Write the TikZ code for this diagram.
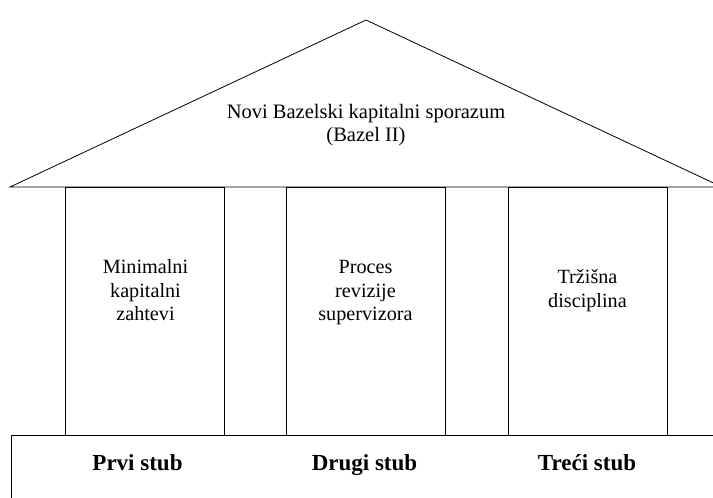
\documentclass[tikz,border=0pt]{standalone}
\usepackage{fontspec}
\setmainfont{Liberation Serif}
\begin{document}
\begin{tikzpicture}[x=1pt,y=1pt,
  outline/.style={draw=black,line width=0.8pt},
  pillartext/.style={align=center,font=\fontsize{20.2}{23.5}\selectfont,inner sep=0pt,anchor=base},
  roottext/.style={align=center,font=\fontsize{20.5}{23.4}\selectfont,inner sep=0pt,anchor=base},
  stubtext/.style={font=\fontsize{23}{27}\selectfont\bfseries,inner sep=0pt,anchor=base}]
\useasboundingbox (0,0) rectangle (713,498);
\clip (0,0) rectangle (713,498);
% roof
\draw[outline] (10,311) -- (366,478) -- (722,311) -- cycle;
% pillars
\draw[outline] (65,311) rectangle (224,63);
\draw[outline] (286,311) rectangle (445,63);
\draw[outline] (508,311) rectangle (667,63);
% base
\draw[outline] (11,-10) -- (11,63) -- (720,63);
% texts (anchored at the baseline of the last line)
\node[roottext] (roof) at (366,356.3) {Novi Bazelski kapitalni sporazum\\(Bazel II)};
\node[pillartext] (p1) at (145.5,177) {Minimalni\\kapitalni\\zahtevi};
\node[pillartext] (p2) at (365.5,177) {Proces\\revizije\\supervizora};
\node[pillartext] (p3) at (587.5,190.5) {Tržišna\\disciplina};
\node[stubtext] (s1) at (137.5,27) {Prvi stub};
\node[stubtext] (s2) at (364.5,27) {Drugi stub};
\node[stubtext] (s3) at (587,27) {Treći stub};
\end{tikzpicture}
\end{document}
